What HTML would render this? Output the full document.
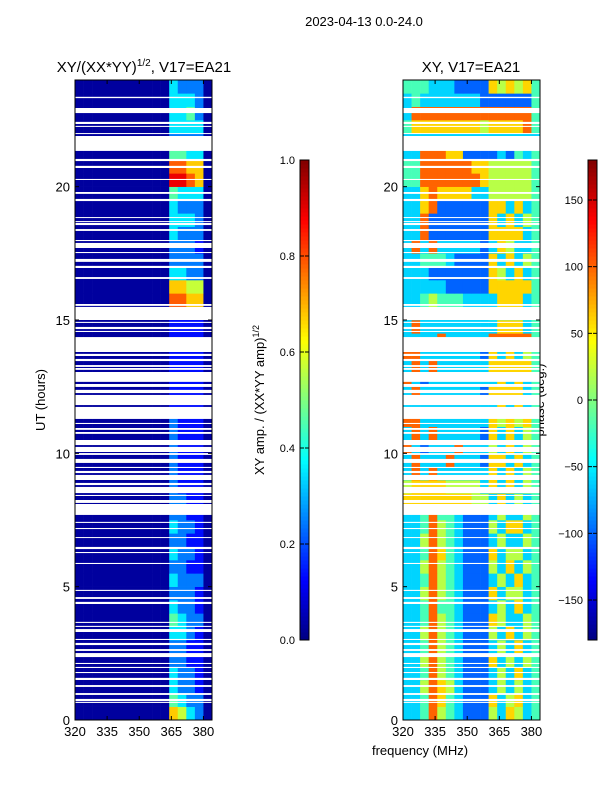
<!DOCTYPE html>
<html><head><meta charset="utf-8">
<style>
html,body{margin:0;padding:0;background:#fff;}
svg{display:block;font-family:"Liberation Sans",sans-serif;}
</style></head>
<body>
<svg id="chart" width="600" height="800" viewBox="0 0 600 800">
<text x="364" y="26" font-size="13" text-anchor="middle">2023-04-13 0.0-24.0</text>
<text x="144" y="72" font-size="15" text-anchor="middle">XY/(XX*YY)<tspan font-size="10" dy="-6">1/2</tspan><tspan dy="6">, V17=EA21</tspan></text>
<text x="471" y="72" font-size="15" text-anchor="middle">XY, V17=EA21</text>
<text transform="translate(45,400) rotate(-90)" font-size="13" text-anchor="middle">UT (hours)</text>
<text transform="translate(264,400) rotate(-90)" font-size="13" text-anchor="middle">XY amp. / (XX*YY amp)<tspan font-size="9" dy="-5">1/2</tspan></text>
<text transform="translate(544,400) rotate(-90)" font-size="13" text-anchor="middle">phase (deg.)</text>
<text x="420" y="755" font-size="13" text-anchor="middle">frequency (MHz)</text>
<g id="plots"></g>
</svg>
<script>
const freqTicks = [320, 335, 350, 365, 380];
const timeTicks = [0, 5, 10, 15, 20];
const ampTicks = [0.0, 0.2, 0.4, 0.6, 0.8, 1.0];
const phaseTicks = [-150, -100, -50, 0, 50, 100, 150];
const freqRange = [320, 384];
const timeRange = [0, 24];
// amplitude rows, 0.5 h each from 0 h upward; 16 freq channels of 4 MHz; digit d -> d/9
const ampRows = [
"0000000000065320","0000000000043220","0000000000032210","0000000000032210",
"0000000000022110","0000000000022110","0000000000033210","0000000000043220",
"0000000000032210","0000000000022210","0000000000032220","0000000000022110",
"0000000000032210","0000000000022110","0000000000032210","0000000000022110",
"0000000000022110","0000000000021110","0000000000021110","0000000000021110",
"0000000000021110","0000000000021110","0000000000021110","0000000000011110",
"0000000000011110","0000000000011110","0000000000011110","0000000000011110",
"0000000000011110","0000000000011110","0000000000011110","0000000000077660",
"0000000000066550","0000000000033220","0000000000022220","0000000000022210",
"0000000000032220","0000000000033320","0000000000032220","0000000000043330",
"0000000000088760","0000000000077660","0000000000044330","0000000000022220",
"0000000000033330","0000000000033420","0000000000033320","0000000000032220"];
// phase rows; digit d -> -180 + d*40 deg
const phaseRows = [
"3347543222536534","3347643222635634","3357653222353534","3347543222353634",
"3357543222635354","3347543222353634","3357543222536354","3347543222653354",
"3347443222353634","3357543222635534","3347543222353634","3357543222536354",
"3347643222635534","3357543222353354","3347543222536634","3347443222353354",
"6666666655363534","5666655553636354","3737333333636354","3733373332663634",
"7323337333536354","3737333332636354","7733333333656564","3333333333363634",
"3733333332666634","7323333333363634","3737333333666664","7733333332636354",
"3333733333777774","3733333333366634","3333333333444444","3345444333366634",
"3333322222666664","3332222222653634","3344432222636354","3737333332365334",
"3372222222666634","3372222222636354","3367222222663634","3367666633555554",
"4477777776555554","4477777766555554","3377766222232434","3333333333333333",
"4666666665666674","3777777777777774","3433333332222224","4443332222656564"];
// flagged (blank) time intervals in hours
const gaps = [[23.32,23.37],[22.76,22.95],[22.35,22.43],[22.24,22.28],[21.98,22.01],[21.34,21.9],
[20.96,21.04],[20.7,20.78],[20.25,20.29],[19.73,19.8],[19.46,19.54],[18.83,18.86],[18.68,18.71],
[18.56,18.64],[18.34,18.41],[17.96,18.0],[17.7,17.89],[17.51,17.55],[17.18,17.29],[16.95,17.03],
[16.54,16.61],[15.53,15.6],[15.0,15.49],[14.89,14.93],[14.66,14.74],[14.55,14.59],[13.8,14.36],
[13.65,13.73],[13.46,13.54],[13.24,13.31],[13.13,13.2],[12.68,13.05],[12.49,12.6],[12.26,12.38],
[11.81,12.19],[11.29,11.74],[11.1,11.14],[10.88,10.95],[10.73,10.8],[10.31,10.5],[10.05,10.24],
[9.94,10.01],[9.64,9.79],[9.45,9.49],[9.26,9.34],[9.0,9.19],[8.81,8.89],[8.51,8.74],[8.4,8.44],
[8.14,8.25],[7.69,8.1],[7.39,7.43],[7.16,7.2],[6.83,6.86],[6.41,6.49],[6.26,6.3],[5.85,5.89],
[4.84,4.88],[4.54,4.61],[4.35,4.43],[3.64,3.68],[3.49,3.53],[3.3,3.41],[3.0,3.04],[2.81,2.89],
[2.59,2.66],[2.36,2.51],[2.1,2.14],[1.95,1.99],[1.76,1.8],[1.5,1.58],[1.24,1.31],[0.94,1.01],
[0.71,0.79],[0.64,0.68]];

const NS='http://www.w3.org/2000/svg';
const root=document.getElementById('plots');
function mk(tag,attrs,parent){const e=document.createElementNS(NS,tag);for(const k in attrs)e.setAttribute(k,attrs[k]);(parent||root).appendChild(e);return e;}
function jet(v){v=Math.max(0,Math.min(1,v));
 const r=Math.max(0,Math.min(1,1.5-Math.abs(4*v-3)));
 const g=Math.max(0,Math.min(1,1.5-Math.abs(4*v-2)));
 const b=Math.max(0,Math.min(1,1.5-Math.abs(4*v-1)));
 return 'rgb('+Math.round(r*255)+','+Math.round(g*255)+','+Math.round(b*255)+')';}
const AX={top:80,bottom:720};
function yScale(h){return AX.bottom-(h-timeRange[0])/(timeRange[1]-timeRange[0])*(AX.bottom-AX.top);}
function makeX(x0,x1){return f=>x0+(f-freqRange[0])/(freqRange[1]-freqRange[0])*(x1-x0);}

function panel(name,x0,x1,rows,toVal){
 const xs=makeX(x0,x1);
 const g=mk('g',{});
 
 
 const nch=rows[0].length, df=(freqRange[1]-freqRange[0])/nch, dt=(timeRange[1]-timeRange[0])/rows.length;
 rows.forEach((row,i)=>{
  for(let j=0;j<nch;j++){
   const xa=xs(freqRange[0]+j*df), xb=xs(freqRange[0]+(j+1)*df);
   const ya=yScale((i+1)*dt), yb=yScale(i*dt);
   const c=mk('rect',{x:xa,y:ya,width:xb-xa+0.3,height:yb-ya+0.3,fill:jet(toVal(+row[j]))},g);
   
   
  }
 });
 gaps.forEach(gp=>{
  const r=mk('rect',{x:x0,y:yScale(gp[1]),width:x1-x0,height:Math.max(1,yScale(gp[0])-yScale(gp[1])),fill:'#fff'},g);
  
  
 });
 const fr=mk('rect',{x:x0,y:AX.top,width:x1-x0,height:AX.bottom-AX.top,fill:'none',stroke:'#000','stroke-width':1});
 
 
 freqTicks.forEach(f=>{
  const x=xs(f);
  mk('line',{x1:x,x2:x,y1:AX.bottom,y2:AX.bottom-4,stroke:'#000'});
  mk('line',{x1:x,x2:x,y1:AX.top,y2:AX.top+4,stroke:'#000'});
  const t=mk('text',{x:x,y:AX.bottom+16,'font-size':13,'text-anchor':'middle'});
  t.textContent=f;
  
  
 });
 timeTicks.forEach(h=>{
  const y=yScale(h);
  mk('line',{x1:x0,x2:x0+4,y1:y,y2:y,stroke:'#000'});
  mk('line',{x1:x1,x2:x1-4,y1:y,y2:y,stroke:'#000'});
  const t=mk('text',{x:x0-5,y:y+5,'font-size':13,'text-anchor':'end'});
  t.textContent=h;
  
  
 });
}
panel('amplitude',75,212,ampRows,d=>0.03+d/9*0.97);
panel('phase',403,540,phaseRows,d=>(d*40)/360);

function colorbar(name,x,vmin,vmax,ticks,fmt){
 const top=160,bot=640,w=9;
 const g=mk('g',{});
 
 
 const n=120;
 for(let i=0;i<n;i++){
  mk('rect',{x:x,y:bot-(i+1)*(bot-top)/n,width:w,height:(bot-top)/n+0.5,fill:jet((i+0.5)/n)},g);
 }
 mk('rect',{x:x,y:top,width:w,height:bot-top,fill:'none',stroke:'#000','stroke-width':1},g);
 ticks.forEach(v=>{
  const y=bot-(v-vmin)/(vmax-vmin)*(bot-top);
  mk('line',{x1:x,x2:x+4,y1:y,y2:y,stroke:'#000'},g);
  mk('line',{x1:x+w,x2:x+w-4,y1:y,y2:y,stroke:'#000'},g);
  const t=mk('text',{x:x-5,y:y+4,'font-size':11,'text-anchor':'end'},g);
  t.textContent=fmt(v);
  
  
 });
}
colorbar('amplitude-colorbar',300,0,1,ampTicks,v=>v.toFixed(1));
colorbar('phase-colorbar',588,-180,180,phaseTicks,v=>v<0?'\u2212'+(-v):String(v));
</script>
</body></html>
